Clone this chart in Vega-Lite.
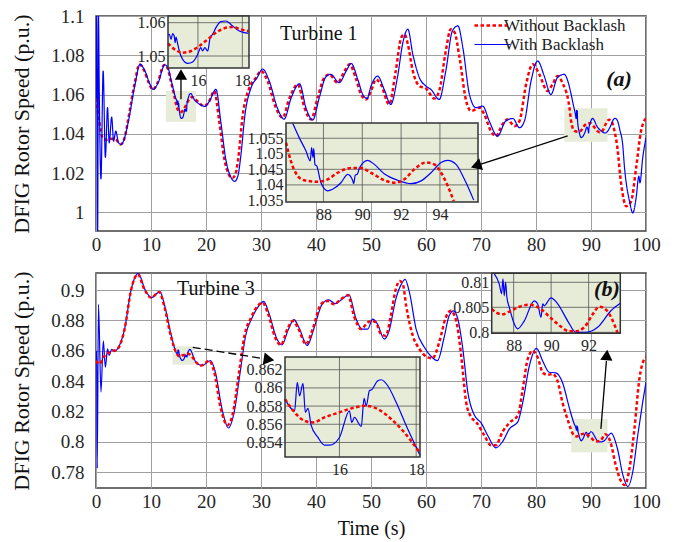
{
"$schema":"https://vega.github.io/schema/vega-lite/v6.json",
"background":"white",
"padding":{"left":10,"top":6,"right":5,"bottom":5},
"spacing":15,
"config":{
 "font":"Liberation Serif",
 "view":{"stroke":"#404040","strokeWidth":1.5},
 "axis":{"labelFont":"Liberation Serif","titleFont":"Liberation Serif","labelColor":"#262626","titleColor":"#111","titleFontWeight":"normal","domain":false,"ticks":false,"gridColor":"#a0a0a0","gridWidth":1,"gridOpacity":1,"labelFlush":false,"labelOverlap":false},
 "legend":{"labelFont":"Liberation Serif"}
},
"datasets":{
 "aMain":[
{"s":"R","t":0,"v":1.058},{"s":"R","t":0.6,"v":1.046},{"s":"R","t":1.2,"v":1.038},{"s":"R","t":1.8,"v":1.037},{"s":"R","t":2.7,"v":1.0375},{"s":"R","t":3.6,"v":1.037},{"s":"R","t":4.5,"v":1.0346},{"s":"R","t":5.2,"v":1.038},{"s":"R","t":5.8,"v":1.0465},{"s":"R","t":7,"v":1.0652},{"s":"R","t":7.9,"v":1.0754},{"s":"R","t":8.8,"v":1.072},{"s":"R","t":9.6,"v":1.066},{"s":"R","t":10.3,"v":1.0626},{"s":"R","t":11.2,"v":1.066},{"s":"R","t":12.4,"v":1.0751},{"s":"R","t":13,"v":1.0735},{"s":"R","t":13.6,"v":1.0669},{"s":"R","t":14.2,"v":1.06},{"s":"R","t":14.71,"v":1.0535},{"s":"R","t":15.01,"v":1.0517},{"s":"R","t":15.31,"v":1.051},{"s":"R","t":15.69,"v":1.0515},{"s":"R","t":16.06,"v":1.053},{"s":"R","t":16.44,"v":1.055},{"s":"R","t":16.81,"v":1.057},{"s":"R","t":17.18,"v":1.0583},{"s":"R","t":17.56,"v":1.0587},{"s":"R","t":17.93,"v":1.058},{"s":"R","t":18.5,"v":1.0565},{"s":"R","t":19.7,"v":1.0541},{"s":"R","t":20.6,"v":1.0567},{"s":"R","t":21.5,"v":1.0618},{"s":"R","t":22.4,"v":1.0465},{"s":"R","t":23.3,"v":1.0277},{"s":"R","t":24.2,"v":1.019},{"s":"R","t":24.8,"v":1.0175},{"s":"R","t":25.3,"v":1.019},{"s":"R","t":25.8,"v":1.026},{"s":"R","t":26.7,"v":1.0499},{"s":"R","t":27.9,"v":1.0635},{"s":"R","t":29.1,"v":1.0686},{"s":"R","t":30,"v":1.072},{"s":"R","t":31.2,"v":1.0669},{"s":"R","t":32.7,"v":1.0533},{"s":"R","t":33.9,"v":1.0482},{"s":"R","t":35.2,"v":1.0584},{"s":"R","t":36.7,"v":1.0652},{"s":"R","t":37.9,"v":1.0533},{"s":"R","t":39.1,"v":1.0473},{"s":"R","t":40.3,"v":1.0584},{"s":"R","t":41.5,"v":1.0686},{"s":"R","t":42.4,"v":1.0703},{"s":"R","t":43.9,"v":1.066},{"s":"R","t":45.2,"v":1.072},{"s":"R","t":46.1,"v":1.0754},{"s":"R","t":47.3,"v":1.0677},{"s":"R","t":48.2,"v":1.06},{"s":"R","t":49.1,"v":1.0575},{"s":"R","t":50,"v":1.0618},{"s":"R","t":50.9,"v":1.0677},{"s":"R","t":51.8,"v":1.0652},{"s":"R","t":53.3,"v":1.055},{"s":"R","t":54.5,"v":1.072},{"s":"R","t":55.5,"v":1.089},{"s":"R","t":56.1,"v":1.0907},{"s":"R","t":56.7,"v":1.0856},{"s":"R","t":57.6,"v":1.072},{"s":"R","t":58.8,"v":1.0643},{"s":"R","t":60,"v":1.0631},{"s":"R","t":61.5,"v":1.058},{"s":"R","t":62.4,"v":1.0618},{"s":"R","t":63.6,"v":1.0822},{"s":"R","t":64.5,"v":1.0933},{"s":"R","t":65.2,"v":1.0916},{"s":"R","t":66.1,"v":1.0788},{"s":"R","t":67.3,"v":1.0567},{"s":"R","t":68.2,"v":1.0516},{"s":"R","t":69.7,"v":1.0533},{"s":"R","t":70.6,"v":1.0499},{"s":"R","t":71.8,"v":1.0414},{"s":"R","t":72.7,"v":1.0388},{"s":"R","t":73.9,"v":1.0448},{"s":"R","t":74.8,"v":1.0473},{"s":"R","t":76.1,"v":1.0439},{"s":"R","t":77,"v":1.0465},{"s":"R","t":78.2,"v":1.0652},{"s":"R","t":79.4,"v":1.0754},{"s":"R","t":80.6,"v":1.0703},{"s":"R","t":82.1,"v":1.0618},{"s":"R","t":83,"v":1.0652},{"s":"R","t":83.9,"v":1.0694},{"s":"R","t":84.8,"v":1.066},{"s":"R","t":86.07,"v":1.0536},{"s":"R","t":86.32,"v":1.0477},{"s":"R","t":86.67,"v":1.0429},{"s":"R","t":87.01,"v":1.0415},{"s":"R","t":87.7,"v":1.041},{"s":"R","t":88.22,"v":1.0418},{"s":"R","t":88.73,"v":1.0439},{"s":"R","t":89.42,"v":1.0454},{"s":"R","t":89.93,"v":1.0454},{"s":"R","t":90.45,"v":1.0439},{"s":"R","t":91.13,"v":1.0415},{"s":"R","t":91.65,"v":1.0407},{"s":"R","t":92.16,"v":1.0418},{"s":"R","t":92.68,"v":1.045},{"s":"R","t":93.28,"v":1.0472},{"s":"R","t":93.71,"v":1.0466},{"s":"R","t":94.06,"v":1.0439},{"s":"R","t":94.4,"v":1.0397},{"s":"R","t":94.71,"v":1.0348},{"s":"R","t":95.5,"v":1.0141},{"s":"R","t":96.4,"v":1.0031},{"s":"R","t":97.3,"v":1.0056},{"s":"R","t":98.2,"v":1.0226},{"s":"R","t":99.1,"v":1.0414},{"s":"R","t":100,"v":1.048},
{"s":"B","t":0,"v":1.058},{"s":"B","t":0.12,"v":1.1},{"s":"B","t":0.3,"v":0.9905},{"s":"B","t":0.45,"v":1.1},{"s":"B","t":0.6,"v":1.06},{"s":"B","t":0.9,"v":1.017},{"s":"B","t":1.3,"v":1.072},{"s":"B","t":1.7,"v":1.028},{"s":"B","t":2.1,"v":1.0533},{"s":"B","t":2.4,"v":1.0354},{"s":"B","t":2.85,"v":1.0485},{"s":"B","t":3.2,"v":1.0363},{"s":"B","t":3.6,"v":1.0414},{"s":"B","t":4.1,"v":1.0354},{"s":"B","t":4.6,"v":1.0346},{"s":"B","t":5.2,"v":1.038},{"s":"B","t":5.9,"v":1.0465},{"s":"B","t":7.1,"v":1.0652},{"s":"B","t":8,"v":1.0754},{"s":"B","t":8.9,"v":1.072},{"s":"B","t":9.7,"v":1.066},{"s":"B","t":10.4,"v":1.0626},{"s":"B","t":11.3,"v":1.066},{"s":"B","t":12.5,"v":1.0751},{"s":"B","t":13.1,"v":1.0735},{"s":"B","t":13.7,"v":1.0669},{"s":"B","t":14.5,"v":1.058},{"s":"B","t":14.71,"v":1.0565},{"s":"B","t":14.79,"v":1.055},{"s":"B","t":14.86,"v":1.0567},{"s":"B","t":14.93,"v":1.056},{"s":"B","t":14.97,"v":1.054},{"s":"B","t":15.01,"v":1.0557},{"s":"B","t":15.09,"v":1.0535},{"s":"B","t":15.31,"v":1.049},{"s":"B","t":15.54,"v":1.0478},{"s":"B","t":15.76,"v":1.0482},{"s":"B","t":15.99,"v":1.0505},{"s":"B","t":16.13,"v":1.0525},{"s":"B","t":16.21,"v":1.0515},{"s":"B","t":16.31,"v":1.0525},{"s":"B","t":16.44,"v":1.0515},{"s":"B","t":16.55,"v":1.0555},{"s":"B","t":16.81,"v":1.0585},{"s":"B","t":17.03,"v":1.0603},{"s":"B","t":17.26,"v":1.0605},{"s":"B","t":17.56,"v":1.059},{"s":"B","t":17.86,"v":1.0575},{"s":"B","t":18.6,"v":1.0555},{"s":"B","t":19.8,"v":1.054},{"s":"B","t":20.7,"v":1.057},{"s":"B","t":21.8,"v":1.0627},{"s":"B","t":22.7,"v":1.046},{"s":"B","t":23.6,"v":1.027},{"s":"B","t":24.6,"v":1.0175},{"s":"B","t":25.2,"v":1.0158},{"s":"B","t":25.8,"v":1.0185},{"s":"B","t":26.3,"v":1.028},{"s":"B","t":27.1,"v":1.05},{"s":"B","t":28.2,"v":1.0635},{"s":"B","t":29.3,"v":1.0686},{"s":"B","t":30.3,"v":1.073},{"s":"B","t":31.5,"v":1.0669},{"s":"B","t":33,"v":1.053},{"s":"B","t":34.2,"v":1.0475},{"s":"B","t":35.5,"v":1.0584},{"s":"B","t":37,"v":1.0655},{"s":"B","t":38.2,"v":1.053},{"s":"B","t":39.4,"v":1.047},{"s":"B","t":40.6,"v":1.0584},{"s":"B","t":41.8,"v":1.069},{"s":"B","t":42.7,"v":1.0703},{"s":"B","t":44.2,"v":1.066},{"s":"B","t":45.5,"v":1.072},{"s":"B","t":46.4,"v":1.0758},{"s":"B","t":47.6,"v":1.0677},{"s":"B","t":48.5,"v":1.06},{"s":"B","t":49.3,"v":1.058},{"s":"B","t":50,"v":1.0643},{"s":"B","t":51.2,"v":1.0694},{"s":"B","t":52.4,"v":1.0626},{"s":"B","t":53.6,"v":1.055},{"s":"B","t":54.8,"v":1.0686},{"s":"B","t":55.8,"v":1.0865},{"s":"B","t":56.7,"v":1.0933},{"s":"B","t":57.6,"v":1.0805},{"s":"B","t":58.8,"v":1.0686},{"s":"B","t":60,"v":1.0643},{"s":"B","t":60.9,"v":1.0626},{"s":"B","t":62.4,"v":1.0575},{"s":"B","t":63.6,"v":1.072},{"s":"B","t":64.8,"v":1.0924},{"s":"B","t":65.8,"v":1.095},{"s":"B","t":66.7,"v":1.0839},{"s":"B","t":67.9,"v":1.06},{"s":"B","t":69.1,"v":1.0533},{"s":"B","t":70.3,"v":1.0541},{"s":"B","t":71.5,"v":1.0465},{"s":"B","t":73,"v":1.0388},{"s":"B","t":74.5,"v":1.0465},{"s":"B","t":75.8,"v":1.0478},{"s":"B","t":77,"v":1.0431},{"s":"B","t":77.9,"v":1.0465},{"s":"B","t":79.1,"v":1.0669},{"s":"B","t":80.3,"v":1.0771},{"s":"B","t":81.5,"v":1.0694},{"s":"B","t":82.7,"v":1.06},{"s":"B","t":83.9,"v":1.0686},{"s":"B","t":85.1,"v":1.0703},{"s":"B","t":86.4,"v":1.06},{"s":"B","t":86.75,"v":1.0552},{"s":"B","t":87.1,"v":1.0509},{"s":"B","t":87.32,"v":1.0477},{"s":"B","t":87.39,"v":1.052},{"s":"B","t":87.46,"v":1.0488},{"s":"B","t":87.5,"v":1.0517},{"s":"B","t":87.56,"v":1.0466},{"s":"B","t":87.87,"v":1.0407},{"s":"B","t":88.22,"v":1.0381},{"s":"B","t":88.9,"v":1.0407},{"s":"B","t":89.25,"v":1.0434},{"s":"B","t":89.5,"v":1.0415},{"s":"B","t":89.56,"v":1.0404},{"s":"B","t":89.64,"v":1.0432},{"s":"B","t":89.85,"v":1.0454},{"s":"B","t":90.28,"v":1.0479},{"s":"B","t":91.13,"v":1.0436},{"s":"B","t":91.82,"v":1.0415},{"s":"B","t":92.51,"v":1.0404},{"s":"B","t":93.03,"v":1.0413},{"s":"B","t":93.54,"v":1.0439},{"s":"B","t":94.06,"v":1.0472},{"s":"B","t":94.4,"v":1.0479},{"s":"B","t":94.83,"v":1.0466},{"s":"B","t":95.26,"v":1.0418},{"s":"B","t":95.74,"v":1.0351},{"s":"B","t":96.1,"v":1.0226},{"s":"B","t":97,"v":1.0056},{"s":"B","t":97.6,"v":0.9997},{"s":"B","t":98.2,"v":1.0073},{"s":"B","t":98.7,"v":1.0184},{"s":"B","t":98.9,"v":1.015},{"s":"B","t":99.4,"v":1.0277},{"s":"B","t":100,"v":1.038}
 ],
 "bMain":[
{"s":"R","t":0,"v":0.8535},{"s":"R","t":0.6,"v":0.8513},{"s":"R","t":1.5,"v":0.8564},{"s":"R","t":2.7,"v":0.8594},{"s":"R","t":3.9,"v":0.8612},{"s":"R","t":5.2,"v":0.8743},{"s":"R","t":6.4,"v":0.9004},{"s":"R","t":7.6,"v":0.9103},{"s":"R","t":8.8,"v":0.9004},{"s":"R","t":10,"v":0.895},{"s":"R","t":11.5,"v":0.8987},{"s":"R","t":12.4,"v":0.8895},{"s":"R","t":13.6,"v":0.8699},{"s":"R","t":14.58,"v":0.8588},{"s":"R","t":14.83,"v":0.8573},{"s":"R","t":15.09,"v":0.8564},{"s":"R","t":15.31,"v":0.8562},{"s":"R","t":15.61,"v":0.8568},{"s":"R","t":16,"v":0.8573},{"s":"R","t":16.31,"v":0.8578},{"s":"R","t":16.7,"v":0.858},{"s":"R","t":17,"v":0.8577},{"s":"R","t":17.35,"v":0.8566},{"s":"R","t":17.69,"v":0.8551},{"s":"R","t":18.09,"v":0.8529},{"s":"R","t":19.1,"v":0.8503},{"s":"R","t":20.6,"v":0.8535},{"s":"R","t":21.5,"v":0.8459},{"s":"R","t":22.7,"v":0.8219},{"s":"R","t":23.9,"v":0.811},{"s":"R","t":24.8,"v":0.8175},{"s":"R","t":26.1,"v":0.8481},{"s":"R","t":27,"v":0.8699},{"s":"R","t":28.2,"v":0.8819},{"s":"R","t":29.4,"v":0.8895},{"s":"R","t":30.3,"v":0.8917},{"s":"R","t":31.2,"v":0.8852},{"s":"R","t":32.7,"v":0.8677},{"s":"R","t":33.6,"v":0.8638},{"s":"R","t":34.8,"v":0.8743},{"s":"R","t":35.8,"v":0.8797},{"s":"R","t":36.7,"v":0.8753},{"s":"R","t":38.2,"v":0.8644},{"s":"R","t":39.4,"v":0.8743},{"s":"R","t":40.9,"v":0.8906},{"s":"R","t":42.1,"v":0.8928},{"s":"R","t":43.3,"v":0.8906},{"s":"R","t":44.5,"v":0.8939},{"s":"R","t":45.8,"v":0.8965},{"s":"R","t":47,"v":0.8819},{"s":"R","t":48.2,"v":0.8743},{"s":"R","t":49.4,"v":0.8786},{"s":"R","t":50,"v":0.8797},{"s":"R","t":50.9,"v":0.8786},{"s":"R","t":51.8,"v":0.871},{"s":"R","t":52.7,"v":0.8699},{"s":"R","t":53.6,"v":0.883},{"s":"R","t":54.5,"v":0.9004},{"s":"R","t":55.2,"v":0.9059},{"s":"R","t":55.8,"v":0.9037},{"s":"R","t":56.4,"v":0.8895},{"s":"R","t":57.6,"v":0.8699},{"s":"R","t":58.8,"v":0.8612},{"s":"R","t":60.3,"v":0.8557},{"s":"R","t":61.2,"v":0.8551},{"s":"R","t":62.4,"v":0.8655},{"s":"R","t":63.6,"v":0.8819},{"s":"R","t":64.5,"v":0.8863},{"s":"R","t":65.5,"v":0.8797},{"s":"R","t":66.4,"v":0.8568},{"s":"R","t":67.3,"v":0.8262},{"s":"R","t":68.2,"v":0.8164},{"s":"R","t":69.1,"v":0.8132},{"s":"R","t":70.6,"v":0.8044},{"s":"R","t":71.8,"v":0.7979},{"s":"R","t":72.7,"v":0.7979},{"s":"R","t":73.9,"v":0.8066},{"s":"R","t":75.2,"v":0.8127},{"s":"R","t":76.7,"v":0.8175},{"s":"R","t":77.6,"v":0.835},{"s":"R","t":78.5,"v":0.8546},{"s":"R","t":79.4,"v":0.86},{"s":"R","t":80.3,"v":0.8557},{"s":"R","t":81.2,"v":0.8459},{"s":"R","t":82.1,"v":0.8441},{"s":"R","t":83,"v":0.8448},{"s":"R","t":83.9,"v":0.8404},{"s":"R","t":84.8,"v":0.8262},{"s":"R","t":85.8,"v":0.8142},{"s":"R","t":86.83,"v":0.8047},{"s":"R","t":87.41,"v":0.8036},{"s":"R","t":88.3,"v":0.8051},{"s":"R","t":88.83,"v":0.8055},{"s":"R","t":90,"v":0.8028},{"s":"R","t":90.88,"v":0.8003},{"s":"R","t":91.77,"v":0.801},{"s":"R","t":92.57,"v":0.8051},{"s":"R","t":93.2,"v":0.803},{"s":"R","t":93.55,"v":0.7998},{"s":"R","t":94.5,"v":0.7848},{"s":"R","t":95.5,"v":0.7739},{"s":"R","t":96.1,"v":0.7717},{"s":"R","t":97,"v":0.7826},{"s":"R","t":97.9,"v":0.8088},{"s":"R","t":98.8,"v":0.8415},{"s":"R","t":99.7,"v":0.8546},{"s":"R","t":100,"v":0.8557},
{"s":"B","t":0,"v":0.8535},{"s":"B","t":0.12,"v":0.86},{"s":"B","t":0.22,"v":0.7826},{"s":"B","t":0.45,"v":0.8906},{"s":"B","t":0.9,"v":0.8328},{"s":"B","t":1.33,"v":0.8666},{"s":"B","t":1.7,"v":0.8492},{"s":"B","t":2.1,"v":0.8612},{"s":"B","t":2.4,"v":0.857},{"s":"B","t":2.85,"v":0.861},{"s":"B","t":3.3,"v":0.8594},{"s":"B","t":3.9,"v":0.8612},{"s":"B","t":5.2,"v":0.8743},{"s":"B","t":6.4,"v":0.9004},{"s":"B","t":7.7,"v":0.911},{"s":"B","t":8.9,"v":0.9004},{"s":"B","t":10.1,"v":0.895},{"s":"B","t":11.6,"v":0.899},{"s":"B","t":12.5,"v":0.8895},{"s":"B","t":13.7,"v":0.8699},{"s":"B","t":14.58,"v":0.8588},{"s":"B","t":14.83,"v":0.8575},{"s":"B","t":14.9,"v":0.8606},{"s":"B","t":14.96,"v":0.8591},{"s":"B","t":15.05,"v":0.8605},{"s":"B","t":15.11,"v":0.8573},{"s":"B","t":15.18,"v":0.8578},{"s":"B","t":15.26,"v":0.8559},{"s":"B","t":15.44,"v":0.8546},{"s":"B","t":15.61,"v":0.8537},{"s":"B","t":15.74,"v":0.8537},{"s":"B","t":16,"v":0.8546},{"s":"B","t":16.26,"v":0.8575},{"s":"B","t":16.32,"v":0.8562},{"s":"B","t":16.39,"v":0.8568},{"s":"B","t":16.57,"v":0.8558},{"s":"B","t":16.64,"v":0.8589},{"s":"B","t":16.7,"v":0.858},{"s":"B","t":16.78,"v":0.8597},{"s":"B","t":16.84,"v":0.8598},{"s":"B","t":17,"v":0.8608},{"s":"B","t":17.09,"v":0.8609},{"s":"B","t":17.26,"v":0.8602},{"s":"B","t":17.48,"v":0.8584},{"s":"B","t":17.78,"v":0.8555},{"s":"B","t":18.11,"v":0.8526},{"s":"B","t":19.3,"v":0.8503},{"s":"B","t":20.8,"v":0.8535},{"s":"B","t":21.7,"v":0.8459},{"s":"B","t":22.9,"v":0.8219},{"s":"B","t":24.1,"v":0.8092},{"s":"B","t":25,"v":0.8175},{"s":"B","t":26.3,"v":0.8481},{"s":"B","t":27.2,"v":0.8699},{"s":"B","t":28.4,"v":0.8819},{"s":"B","t":29.6,"v":0.8895},{"s":"B","t":30.5,"v":0.8925},{"s":"B","t":31.4,"v":0.8852},{"s":"B","t":32.9,"v":0.8677},{"s":"B","t":33.8,"v":0.8638},{"s":"B","t":35,"v":0.8743},{"s":"B","t":36,"v":0.8805},{"s":"B","t":36.9,"v":0.8753},{"s":"B","t":38.4,"v":0.8635},{"s":"B","t":39.6,"v":0.8743},{"s":"B","t":41.1,"v":0.8906},{"s":"B","t":42.3,"v":0.8935},{"s":"B","t":43.5,"v":0.891},{"s":"B","t":44.7,"v":0.8939},{"s":"B","t":46,"v":0.897},{"s":"B","t":47.2,"v":0.8819},{"s":"B","t":48.4,"v":0.8743},{"s":"B","t":49.4,"v":0.8743},{"s":"B","t":50.3,"v":0.8808},{"s":"B","t":51.2,"v":0.8775},{"s":"B","t":52.4,"v":0.8677},{"s":"B","t":53.3,"v":0.8732},{"s":"B","t":54.5,"v":0.8939},{"s":"B","t":55.5,"v":0.9037},{"s":"B","t":56.2,"v":0.907},{"s":"B","t":57,"v":0.8983},{"s":"B","t":58.2,"v":0.8743},{"s":"B","t":59.7,"v":0.8623},{"s":"B","t":60.9,"v":0.8564},{"s":"B","t":62.1,"v":0.8535},{"s":"B","t":63.3,"v":0.8688},{"s":"B","t":64.2,"v":0.883},{"s":"B","t":65,"v":0.8863},{"s":"B","t":65.8,"v":0.8808},{"s":"B","t":66.7,"v":0.8612},{"s":"B","t":67.6,"v":0.8328},{"s":"B","t":68.8,"v":0.8175},{"s":"B","t":70,"v":0.8127},{"s":"B","t":71.2,"v":0.8044},{"s":"B","t":72.7,"v":0.7961},{"s":"B","t":73.9,"v":0.8001},{"s":"B","t":75.2,"v":0.8088},{"s":"B","t":76.7,"v":0.8132},{"s":"B","t":77.6,"v":0.8262},{"s":"B","t":78.8,"v":0.8503},{"s":"B","t":80.1,"v":0.8616},{"s":"B","t":81.2,"v":0.8535},{"s":"B","t":82.4,"v":0.8459},{"s":"B","t":83.6,"v":0.8455},{"s":"B","t":84.8,"v":0.8393},{"s":"B","t":86.1,"v":0.8219},{"s":"B","t":86.97,"v":0.8117},{"s":"B","t":87.23,"v":0.8097},{"s":"B","t":87.36,"v":0.8077},{"s":"B","t":87.43,"v":0.8107},{"s":"B","t":87.5,"v":0.8073},{"s":"B","t":87.57,"v":0.81},{"s":"B","t":87.64,"v":0.807},{"s":"B","t":87.77,"v":0.805},{"s":"B","t":88.03,"v":0.8017},{"s":"B","t":88.21,"v":0.8007},{"s":"B","t":88.57,"v":0.8023},{"s":"B","t":89.1,"v":0.8063},{"s":"B","t":89.28,"v":0.8057},{"s":"B","t":89.46,"v":0.803},{"s":"B","t":89.55,"v":0.8057},{"s":"B","t":89.63,"v":0.8053},{"s":"B","t":89.99,"v":0.8069},{"s":"B","t":90.35,"v":0.8057},{"s":"B","t":90.88,"v":0.8023},{"s":"B","t":91.32,"v":0.8},{"s":"B","t":91.86,"v":0.8},{"s":"B","t":92.48,"v":0.801},{"s":"B","t":93.19,"v":0.8043},{"s":"B","t":93.69,"v":0.8058},{"s":"B","t":94.8,"v":0.7957},{"s":"B","t":95.8,"v":0.7782},{"s":"B","t":96.7,"v":0.7706},{"s":"B","t":97.6,"v":0.7804},{"s":"B","t":98.5,"v":0.8044},{"s":"B","t":99.4,"v":0.8262},{"s":"B","t":100,"v":0.8393}
 ],
 "a1":[
{"s":"R","t":14.65,"v":1.0538},{"s":"R","t":15.01,"v":1.0517},{"s":"R","t":15.31,"v":1.051},{"s":"R","t":15.69,"v":1.0515},{"s":"R","t":16.06,"v":1.053},{"s":"R","t":16.44,"v":1.055},{"s":"R","t":16.81,"v":1.057},{"s":"R","t":17.18,"v":1.0583},{"s":"R","t":17.56,"v":1.0587},{"s":"R","t":17.93,"v":1.058},{"s":"R","t":18.28,"v":1.0575},
{"s":"B","t":14.65,"v":1.0563},{"s":"B","t":14.71,"v":1.0565},{"s":"B","t":14.79,"v":1.055},{"s":"B","t":14.86,"v":1.0567},{"s":"B","t":14.93,"v":1.056},{"s":"B","t":14.97,"v":1.054},{"s":"B","t":15.01,"v":1.0557},{"s":"B","t":15.09,"v":1.0535},{"s":"B","t":15.16,"v":1.0515},{"s":"B","t":15.31,"v":1.049},{"s":"B","t":15.54,"v":1.0478},{"s":"B","t":15.76,"v":1.0482},{"s":"B","t":15.99,"v":1.0505},{"s":"B","t":16.13,"v":1.0525},{"s":"B","t":16.21,"v":1.0515},{"s":"B","t":16.31,"v":1.0525},{"s":"B","t":16.44,"v":1.0515},{"s":"B","t":16.55,"v":1.0555},{"s":"B","t":16.66,"v":1.0565},{"s":"B","t":16.81,"v":1.0585},{"s":"B","t":17.03,"v":1.0603},{"s":"B","t":17.26,"v":1.0605},{"s":"B","t":17.56,"v":1.059},{"s":"B","t":17.86,"v":1.0575},{"s":"B","t":18.28,"v":1.0568}
 ],
 "a2":[
{"s":"R","t":86.07,"v":1.0536},{"s":"R","t":86.32,"v":1.0477},{"s":"R","t":86.67,"v":1.0429},{"s":"R","t":87.01,"v":1.0415},{"s":"R","t":87.7,"v":1.041},{"s":"R","t":88.22,"v":1.0418},{"s":"R","t":88.73,"v":1.0439},{"s":"R","t":89.42,"v":1.0454},{"s":"R","t":89.93,"v":1.0454},{"s":"R","t":90.45,"v":1.0439},{"s":"R","t":91.13,"v":1.0415},{"s":"R","t":91.65,"v":1.0407},{"s":"R","t":92.16,"v":1.0418},{"s":"R","t":92.68,"v":1.045},{"s":"R","t":93.28,"v":1.0472},{"s":"R","t":93.71,"v":1.0466},{"s":"R","t":94.06,"v":1.0439},{"s":"R","t":94.4,"v":1.0397},{"s":"R","t":94.71,"v":1.0348},
{"s":"B","t":86.41,"v":1.0599},{"s":"B","t":86.75,"v":1.0552},{"s":"B","t":87.1,"v":1.0509},{"s":"B","t":87.32,"v":1.0477},{"s":"B","t":87.39,"v":1.052},{"s":"B","t":87.46,"v":1.0488},{"s":"B","t":87.5,"v":1.0517},{"s":"B","t":87.56,"v":1.0466},{"s":"B","t":87.66,"v":1.046},{"s":"B","t":87.87,"v":1.0407},{"s":"B","t":88.22,"v":1.0381},{"s":"B","t":88.47,"v":1.0386},{"s":"B","t":88.9,"v":1.0407},{"s":"B","t":89.25,"v":1.0434},{"s":"B","t":89.5,"v":1.0415},{"s":"B","t":89.56,"v":1.0404},{"s":"B","t":89.64,"v":1.0432},{"s":"B","t":89.74,"v":1.0434},{"s":"B","t":89.85,"v":1.0454},{"s":"B","t":90.28,"v":1.0479},{"s":"B","t":90.62,"v":1.0466},{"s":"B","t":91.13,"v":1.0436},{"s":"B","t":91.82,"v":1.0415},{"s":"B","t":92.51,"v":1.0404},{"s":"B","t":93.03,"v":1.0413},{"s":"B","t":93.54,"v":1.0439},{"s":"B","t":94.06,"v":1.0472},{"s":"B","t":94.4,"v":1.0479},{"s":"B","t":94.83,"v":1.0466},{"s":"B","t":95.26,"v":1.0418},{"s":"B","t":95.74,"v":1.0351}
 ],
 "b1":[
{"s":"R","t":14.58,"v":0.85877},{"s":"R","t":14.83,"v":0.85731},{"s":"R","t":15.09,"v":0.85638},{"s":"R","t":15.31,"v":0.8562},{"s":"R","t":15.61,"v":0.85675},{"s":"R","t":16,"v":0.85731},{"s":"R","t":16.31,"v":0.85775},{"s":"R","t":16.7,"v":0.85803},{"s":"R","t":17,"v":0.85767},{"s":"R","t":17.35,"v":0.85657},{"s":"R","t":17.69,"v":0.8551},{"s":"R","t":18.09,"v":0.8529},
{"s":"B","t":14.58,"v":0.85877},{"s":"B","t":14.83,"v":0.85748},{"s":"B","t":14.9,"v":0.86061},{"s":"B","t":14.96,"v":0.85913},{"s":"B","t":15.05,"v":0.8605},{"s":"B","t":15.11,"v":0.85731},{"s":"B","t":15.18,"v":0.85775},{"s":"B","t":15.26,"v":0.85591},{"s":"B","t":15.44,"v":0.85455},{"s":"B","t":15.61,"v":0.8537},{"s":"B","t":15.74,"v":0.8537},{"s":"B","t":16,"v":0.85455},{"s":"B","t":16.26,"v":0.85748},{"s":"B","t":16.32,"v":0.8562},{"s":"B","t":16.39,"v":0.85675},{"s":"B","t":16.57,"v":0.85576},{"s":"B","t":16.64,"v":0.85885},{"s":"B","t":16.7,"v":0.85803},{"s":"B","t":16.78,"v":0.85969},{"s":"B","t":16.84,"v":0.8598},{"s":"B","t":17,"v":0.86079},{"s":"B","t":17.09,"v":0.8609},{"s":"B","t":17.26,"v":0.86024},{"s":"B","t":17.48,"v":0.8584},{"s":"B","t":17.78,"v":0.85547},{"s":"B","t":18.1,"v":0.8526}
 ],
 "b2":[
{"s":"R","t":86.83,"v":0.8047},{"s":"R","t":87.1,"v":0.8039},{"s":"R","t":87.41,"v":0.8036},{"s":"R","t":87.8,"v":0.8042},{"s":"R","t":88.3,"v":0.8051},{"s":"R","t":88.83,"v":0.8055},{"s":"R","t":89.5,"v":0.8045},{"s":"R","t":90,"v":0.8028},{"s":"R","t":90.5,"v":0.8012},{"s":"R","t":90.88,"v":0.8003},{"s":"R","t":91.3,"v":0.8002},{"s":"R","t":91.77,"v":0.801},{"s":"R","t":92.2,"v":0.8035},{"s":"R","t":92.57,"v":0.8051},{"s":"R","t":92.9,"v":0.8046},{"s":"R","t":93.2,"v":0.803},{"s":"R","t":93.55,"v":0.7998},
{"s":"B","t":86.97,"v":0.8117},{"s":"B","t":87.23,"v":0.8097},{"s":"B","t":87.36,"v":0.8077},{"s":"B","t":87.43,"v":0.8107},{"s":"B","t":87.5,"v":0.8073},{"s":"B","t":87.57,"v":0.81},{"s":"B","t":87.64,"v":0.807},{"s":"B","t":87.77,"v":0.805},{"s":"B","t":88.03,"v":0.8017},{"s":"B","t":88.21,"v":0.8007},{"s":"B","t":88.57,"v":0.8023},{"s":"B","t":89.1,"v":0.8063},{"s":"B","t":89.28,"v":0.8057},{"s":"B","t":89.46,"v":0.803},{"s":"B","t":89.55,"v":0.8057},{"s":"B","t":89.63,"v":0.8053},{"s":"B","t":89.99,"v":0.8069},{"s":"B","t":90.35,"v":0.8057},{"s":"B","t":90.88,"v":0.8023},{"s":"B","t":91.32,"v":0.8},{"s":"B","t":91.86,"v":0.8},{"s":"B","t":92.48,"v":0.801},{"s":"B","t":93.19,"v":0.8043},{"s":"B","t":93.69,"v":0.8058}
 ],
 "aHi":[{"x1":12.7,"x2":18.2,"y1":1.0461,"y2":1.0618},{"x1":85.15,"x2":93,"y1":1.0359,"y2":1.053}],
 "bHi":[{"x1":13.9,"x2":17.9,"y1":0.8509,"y2":0.863},{"x1":86.4,"x2":93,"y1":0.7932,"y2":0.8151}]
},
"vconcat":[
{
 "width":550,"height":215,
 "resolve":{"scale":{"x":"independent","y":"independent"}},
 "layer":[
  {"layer":[
   {"data":{"name":"aHi"},"mark":{"type":"rect","fill":"#e6ecd8"},
    "encoding":{
     "x":{"field":"x1","type":"quantitative","scale":{"domain":[0,100],"nice":false},"axis":{"orient":"bottom","values":[0,10,20,30,40,50,60,70,80,90,100],"grid":true,"labelFont":"Liberation Serif","labelFontSize":19,"labelPadding":4,"labelOverlap":false,"labelFlush":false,"title":null}},
     "x2":{"field":"x2"},
     "y":{"field":"y1","type":"quantitative","scale":{"domain":[0.9905,1.1],"nice":false,"zero":false},"axis":{"orient":"left","values":[1,1.02,1.04,1.06,1.08,1.1],"format":"~g","grid":true,"labelFont":"Liberation Serif","labelFontSize":19,"labelPadding":12,"labelOverlap":false,"labelFlush":false,"title":"DFIG Rotor Speed (p.u.)","titleFont":"Liberation Serif","titleFontSize":22,"titlePadding":17}},
     "y2":{"field":"y2"}}},
   {"data":{"name":"aMain"},"mark":{"type":"line","clip":true,"interpolate":"monotone"},
    "encoding":{
     "x":{"field":"t","type":"quantitative"},
     "y":{"field":"v","type":"quantitative"},
     "color":{"field":"s","type":"nominal","scale":{"domain":["R","B"],"range":["#ff0000","#0000ff"]},"legend":{"orient":"none","legendX":388,"legendY":1,"title":null,"symbolType":"M-3,0L3,0","symbolSize":144,"labelFont":"Liberation Serif","labelFontSize":17,"labelOffset":3,"rowPadding":1,"padding":0,"labelColor":"#222","labelExpr":"datum.label == 'R' ? 'Without Backlash' : 'With Backlash'"}},
     "strokeDash":{"field":"s","type":"nominal","scale":{"domain":["R","B"],"range":[[3.5,2.5],[1,0]]},"legend":{"orient":"none","legendX":388,"legendY":1,"title":null,"symbolType":"M-3,0L3,0","symbolSize":144,"labelFont":"Liberation Serif","labelFontSize":17,"labelOffset":3,"rowPadding":1,"padding":0,"labelColor":"#222","labelExpr":"datum.label == 'R' ? 'Without Backlash' : 'With Backlash'"}},
     "strokeWidth":{"field":"s","type":"nominal","scale":{"type":"ordinal","domain":["R","B"],"range":[2.5,1.2]},"legend":{"orient":"none","legendX":388,"legendY":1,"title":null,"symbolType":"M-3,0L3,0","symbolSize":144,"labelFont":"Liberation Serif","labelFontSize":17,"labelOffset":3,"rowPadding":1,"padding":0,"labelColor":"#222","labelExpr":"datum.label == 'R' ? 'Without Backlash' : 'With Backlash'"}},
     "order":{"field":"t","type":"quantitative"}}}
  ]},
  {"layer":[
   {"data":{"values":[{}]},"mark":{"type":"rect","fill":"#e6ecd8"},
    "encoding":{
     "x":{"datum":14.65,"type":"quantitative","scale":{"domain":[14.65,18.3],"range":[72,153],"nice":false,"zero":false},"axis":{"orient":"bottom","offset":-163,"values":[16,18],"format":"~g","grid":false,"labelFont":"Liberation Serif","labelFontSize":16,"labelPadding":4,"labelOverlap":false,"title":null}},
     "x2":{"datum":18.3},
     "y":{"datum":1.0464,"type":"quantitative","scale":{"domain":[1.0464,1.062],"range":[52,0],"nice":false,"zero":false},"axis":{"orient":"left","offset":-72,"values":[1.05,1.06],"format":"~g","grid":false,"labelFont":"Liberation Serif","labelFontSize":16,"labelPadding":3,"labelOverlap":false,"title":null}},
     "y2":{"datum":1.062}}},
   {"data":{"values":[{"g":16},{"g":18}]},"mark":{"type":"rule","color":"#555","strokeWidth":0.8},"encoding":{"x":{"field":"g","type":"quantitative"},"y":{"datum":1.0464},"y2":{"datum":1.062}}},
   {"data":{"values":[{"g":1.05},{"g":1.06}]},"mark":{"type":"rule","color":"#555","strokeWidth":0.8},"encoding":{"y":{"field":"g","type":"quantitative"},"x":{"datum":14.65},"x2":{"datum":18.3}}},
   {"data":{"name":"a1"},"transform":[{"filter":{"field":"s","equal":"B"}}],"mark":{"type":"line","color":"#0000ff","strokeWidth":1.2,"interpolate":"monotone"},"encoding":{"x":{"field":"t","type":"quantitative"},"y":{"field":"v","type":"quantitative"}}},
   {"data":{"name":"a1"},"transform":[{"filter":{"field":"s","equal":"R"}}],"mark":{"type":"line","color":"#ff0000","strokeWidth":2.5,"strokeDash":[3.5,2.5],"interpolate":"monotone"},"encoding":{"x":{"field":"t","type":"quantitative"},"y":{"field":"v","type":"quantitative"}}},
   {"data":{"values":[{}]},"mark":{"type":"rect","fillOpacity":0,"stroke":"#333","strokeWidth":1.5},"encoding":{"x":{"datum":14.65},"x2":{"datum":18.3},"y":{"datum":1.0464},"y2":{"datum":1.062}}}
  ]},
  {"layer":[
   {"data":{"values":[{}]},"mark":{"type":"rect","fill":"#e6ecd8"},
    "encoding":{
     "x":{"datum":86.07,"type":"quantitative","scale":{"domain":[86.07,95.96],"range":[190,382],"nice":false,"zero":false},"axis":{"orient":"bottom","offset":-29,"values":[88,90,92,94],"format":"~g","grid":false,"labelFont":"Liberation Serif","labelFontSize":16,"labelPadding":4,"labelOverlap":false,"title":null}},
     "x2":{"datum":95.96},
     "y":{"datum":1.0345,"type":"quantitative","scale":{"domain":[1.0345,1.0599],"range":[186,107],"nice":false,"zero":false},"axis":{"orient":"left","offset":-190,"values":[1.035,1.04,1.045,1.05,1.055],"format":"~g","grid":false,"labelFont":"Liberation Serif","labelFontSize":16,"labelPadding":3,"labelOverlap":false,"title":null}},
     "y2":{"datum":1.0599}}},
   {"data":{"values":[{"g":88},{"g":90},{"g":92},{"g":94}]},"mark":{"type":"rule","color":"#555","strokeWidth":0.8},"encoding":{"x":{"field":"g","type":"quantitative"},"y":{"datum":1.0345},"y2":{"datum":1.0599}}},
   {"data":{"values":[{"g":1.04},{"g":1.045},{"g":1.05},{"g":1.055}]},"mark":{"type":"rule","color":"#555","strokeWidth":0.8},"encoding":{"y":{"field":"g","type":"quantitative"},"x":{"datum":86.07},"x2":{"datum":95.96}}},
   {"data":{"name":"a2"},"transform":[{"filter":{"field":"s","equal":"B"}}],"mark":{"type":"line","color":"#0000ff","strokeWidth":1.2,"interpolate":"monotone"},"encoding":{"x":{"field":"t","type":"quantitative"},"y":{"field":"v","type":"quantitative"}}},
   {"data":{"name":"a2"},"transform":[{"filter":{"field":"s","equal":"R"}}],"mark":{"type":"line","color":"#ff0000","strokeWidth":2.5,"strokeDash":[3.5,2.5],"interpolate":"monotone"},"encoding":{"x":{"field":"t","type":"quantitative"},"y":{"field":"v","type":"quantitative"}}},
   {"data":{"values":[{}]},"mark":{"type":"rect","fillOpacity":0,"stroke":"#333","strokeWidth":1.5},"encoding":{"x":{"datum":86.07},"x2":{"datum":95.96},"y":{"datum":1.0345},"y2":{"datum":1.0599}}}
  ]},
  {"layer":[
   {"data":{"values":[{}]},"mark":{"type":"rule","color":"black","strokeWidth":1.3},
    "encoding":{"x":{"datum":15.45,"type":"quantitative","scale":{"domain":[0,100],"nice":false},"axis":null},"y":{"datum":1.0576,"type":"quantitative","scale":{"domain":[0.9905,1.1],"nice":false,"zero":false},"axis":null},"y2":{"datum":1.0679}}},
   {"data":{"values":[{}]},"mark":{"type":"rule","color":"black","strokeWidth":1.3},"encoding":{"x":{"datum":85.76},"y":{"datum":1.0389},"x2":{"datum":70},"y2":{"datum":1.0245}}},
   {"data":{"values":[{}]},"mark":{"type":"point","shape":"triangle-up","filled":true,"color":"black","opacity":1,"size":150},"encoding":{"x":{"datum":15.45},"y":{"datum":1.0702}}},
   {"data":{"values":[{}]},"mark":{"type":"point","shape":"triangle-up","filled":true,"color":"black","opacity":1,"size":150,"angle":252},"encoding":{"x":{"datum":69.1},"y":{"datum":1.0237}}},
   {"data":{"values":[{}]},"mark":{"type":"text","fontSize":20,"font":"Liberation Serif","color":"#111"},"encoding":{"x":{"datum":40.5},"y":{"datum":1.0908},"text":{"value":"Turbine 1"}}},
   {"data":{"values":[{}]},"mark":{"type":"text","fontSize":22,"font":"Liberation Serif","fontStyle":"italic","fontWeight":"bold","color":"#111"},"encoding":{"x":{"datum":95.1},"y":{"datum":1.068},"text":{"value":"(a)"}}}
  ]}
 ]
},
{
 "width":550,"height":215,
 "resolve":{"scale":{"x":"independent","y":"independent"}},
 "layer":[
  {"layer":[
   {"data":{"name":"bHi"},"mark":{"type":"rect","fill":"#e6ecd8"},
    "encoding":{
     "x":{"field":"x1","type":"quantitative","scale":{"domain":[0,100],"nice":false},"axis":{"orient":"bottom","values":[0,10,20,30,40,50,60,70,80,90,100],"grid":true,"labelFont":"Liberation Serif","labelFontSize":19,"labelPadding":4,"labelOverlap":false,"labelFlush":false,"title":"Time (s)","titleFont":"Liberation Serif","titleFontSize":20,"titlePadding":7}},
     "x2":{"field":"x2"},
     "y":{"field":"y1","type":"quantitative","scale":{"domain":[0.7697,0.9112],"nice":false,"zero":false},"axis":{"orient":"left","values":[0.78,0.82,0.86,0.9],"format":"~g","grid":true,"labelFont":"Liberation Serif","labelFontSize":19,"labelPadding":12,"labelOverlap":false,"labelFlush":false,"title":"DFIG Rotor Speed (p.u.)","titleFont":"Liberation Serif","titleFontSize":22,"titlePadding":17}},
     "y2":{"field":"y2"}}},
   {"data":{"name":"bMain"},"transform":[{"filter":{"field":"s","equal":"B"}}],"mark":{"type":"line","clip":true,"color":"#0000ff","strokeWidth":1.2,"interpolate":"monotone"},"encoding":{"x":{"field":"t","type":"quantitative"},"y":{"field":"v","type":"quantitative"}}},
   {"data":{"name":"bMain"},"transform":[{"filter":{"field":"s","equal":"R"}}],"mark":{"type":"line","clip":true,"color":"#ff0000","strokeWidth":2.5,"strokeDash":[3.5,2.5],"interpolate":"monotone"},"encoding":{"x":{"field":"t","type":"quantitative"},"y":{"field":"v","type":"quantitative"}}}
  ]},
  {"layer":[
   {"data":{"values":[{}]},"mark":{"type":"rect","fill":"#e6ecd8"},
    "encoding":{
     "x":{"datum":14.58,"type":"quantitative","scale":{"domain":[14.58,18.1],"range":[189,324],"nice":false,"zero":false},"axis":{"orient":"bottom","offset":-31,"values":[16,18],"format":"~g","grid":false,"labelFont":"Liberation Serif","labelFontSize":16,"labelPadding":4,"labelOverlap":false,"title":null}},
     "x2":{"datum":18.1},
     "y":{"datum":0.8524,"type":"quantitative","scale":{"domain":[0.8524,0.8634],"range":[184,84],"nice":false,"zero":false},"axis":{"orient":"left","offset":-189,"values":[0.854,0.856,0.858,0.86,0.862],"format":"~g","grid":false,"labelFont":"Liberation Serif","labelFontSize":16,"labelPadding":3,"labelOverlap":false,"title":null}},
     "y2":{"datum":0.8634}}},
   {"data":{"values":[{"g":16},{"g":18}]},"mark":{"type":"rule","color":"#555","strokeWidth":0.8},"encoding":{"x":{"field":"g","type":"quantitative"},"y":{"datum":0.8524},"y2":{"datum":0.8634}}},
   {"data":{"values":[{"g":0.854},{"g":0.856},{"g":0.858},{"g":0.86},{"g":0.862}]},"mark":{"type":"rule","color":"#555","strokeWidth":0.8},"encoding":{"y":{"field":"g","type":"quantitative"},"x":{"datum":14.58},"x2":{"datum":18.1}}},
   {"data":{"name":"b1"},"transform":[{"filter":{"field":"s","equal":"B"}}],"mark":{"type":"line","color":"#0000ff","strokeWidth":1.2,"interpolate":"monotone"},"encoding":{"x":{"field":"t","type":"quantitative"},"y":{"field":"v","type":"quantitative"}}},
   {"data":{"name":"b1"},"transform":[{"filter":{"field":"s","equal":"R"}}],"mark":{"type":"line","color":"#ff0000","strokeWidth":2.5,"strokeDash":[3.5,2.5],"interpolate":"monotone"},"encoding":{"x":{"field":"t","type":"quantitative"},"y":{"field":"v","type":"quantitative"}}},
   {"data":{"values":[{}]},"mark":{"type":"rect","fillOpacity":0,"stroke":"#333","strokeWidth":1.5},"encoding":{"x":{"datum":14.58},"x2":{"datum":18.1},"y":{"datum":0.8524},"y2":{"datum":0.8634}}}
  ]},
  {"layer":[
   {"data":{"values":[{}]},"mark":{"type":"rect","fill":"#e6ecd8"},
    "encoding":{
     "x":{"datum":86.83,"type":"quantitative","scale":{"domain":[86.83,93.69],"range":[395.7,524.3],"nice":false,"zero":false},"axis":{"orient":"bottom","offset":-154.7,"values":[88,90,92],"format":"~g","grid":false,"labelFont":"Liberation Serif","labelFontSize":16,"labelPadding":4,"labelOverlap":false,"title":null}},
     "x2":{"datum":93.69},
     "y":{"datum":0.7998,"type":"quantitative","scale":{"domain":[0.7998,0.8118],"range":[60.3,0.3],"nice":false,"zero":false},"axis":{"orient":"left","offset":-395.7,"values":[0.8,0.805,0.81],"format":"~g","grid":false,"labelFont":"Liberation Serif","labelFontSize":16,"labelPadding":3,"labelOverlap":false,"title":null}},
     "y2":{"datum":0.8118}}},
   {"data":{"values":[{"g":88},{"g":90},{"g":92}]},"mark":{"type":"rule","color":"#555","strokeWidth":0.8},"encoding":{"x":{"field":"g","type":"quantitative"},"y":{"datum":0.7998},"y2":{"datum":0.8118}}},
   {"data":{"values":[{"g":0.8},{"g":0.805},{"g":0.81}]},"mark":{"type":"rule","color":"#555","strokeWidth":0.8},"encoding":{"y":{"field":"g","type":"quantitative"},"x":{"datum":86.83},"x2":{"datum":93.69}}},
   {"data":{"name":"b2"},"transform":[{"filter":{"field":"s","equal":"B"}}],"mark":{"type":"line","color":"#0000ff","strokeWidth":1.2,"interpolate":"monotone"},"encoding":{"x":{"field":"t","type":"quantitative"},"y":{"field":"v","type":"quantitative"}}},
   {"data":{"name":"b2"},"transform":[{"filter":{"field":"s","equal":"R"}}],"mark":{"type":"line","color":"#ff0000","strokeWidth":2.5,"strokeDash":[3.5,2.5],"interpolate":"monotone"},"encoding":{"x":{"field":"t","type":"quantitative"},"y":{"field":"v","type":"quantitative"}}},
   {"data":{"values":[{}]},"mark":{"type":"rect","fillOpacity":0,"stroke":"#333","strokeWidth":1.5},"encoding":{"x":{"datum":86.83},"x2":{"datum":93.69},"y":{"datum":0.7998},"y2":{"datum":0.8118}}}
  ]},
  {"layer":[
   {"data":{"values":[{}]},"mark":{"type":"rule","color":"black","strokeWidth":1.3,"strokeDash":[8,4]},
    "encoding":{"x":{"datum":17.6,"type":"quantitative","scale":{"domain":[0,100],"nice":false},"axis":null},"y":{"datum":0.8623,"type":"quantitative","scale":{"domain":[0.7697,0.9112],"nice":false,"zero":false},"axis":{"orient":"left","values":[0.8,0.84,0.88],"format":"~g","grid":true,"labelFont":"Liberation Serif","labelFontSize":19,"labelPadding":12,"labelOverlap":false,"labelFlush":false,"title":null}},"x2":{"datum":30.36},"y2":{"datum":0.8549}}},
   {"data":{"values":[{}]},"mark":{"type":"rule","color":"black","strokeWidth":1.3},"encoding":{"x":{"datum":91.8},"y":{"datum":0.8086},"x2":{"datum":92.8},"y2":{"datum":0.8533}}},
   {"data":{"values":[{}]},"mark":{"type":"point","shape":"triangle-up","filled":true,"color":"black","opacity":1,"size":150,"angle":99},"encoding":{"x":{"datum":31.45},"y":{"datum":0.8543}}},
   {"data":{"values":[{}]},"mark":{"type":"point","shape":"triangle-up","filled":true,"color":"black","opacity":1,"size":150,"angle":5},"encoding":{"x":{"datum":92.87},"y":{"datum":0.8572}}},
   {"data":{"values":[{}]},"mark":{"type":"text","fontSize":20,"font":"Liberation Serif","color":"#111"},"encoding":{"x":{"datum":21.8},"y":{"datum":0.9007},"text":{"value":"Turbine 3"}}},
   {"data":{"values":[{}]},"mark":{"type":"text","fontSize":22,"font":"Liberation Serif","fontStyle":"italic","fontWeight":"bold","color":"#111"},"encoding":{"x":{"datum":92.9},"y":{"datum":0.9007},"text":{"value":"(b)"}}}
  ]}
 ]
}
]
}
